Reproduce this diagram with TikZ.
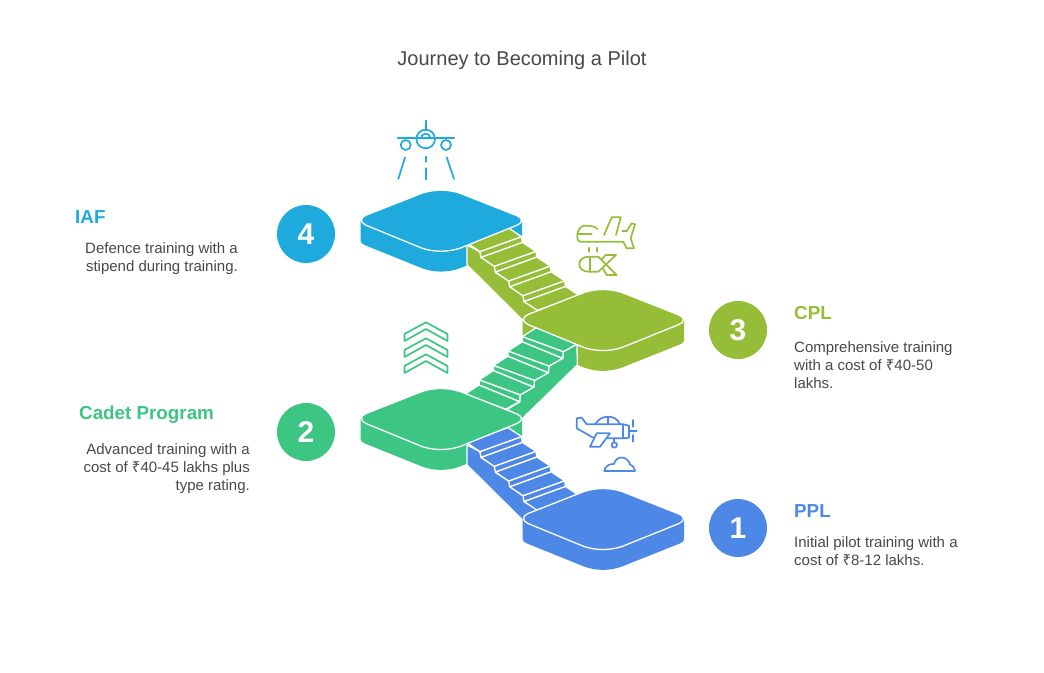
\documentclass[tikz,border=0pt]{standalone}
\usepackage{fontspec}
\setmainfont{Liberation Sans}
\newfontfamily\rupeefont{Noto Sans}
\definecolor{pplblue}{RGB}{78,136,231}
\definecolor{cadetgreen}{RGB}{60,197,131}
\definecolor{cplolive}{RGB}{149,189,56}
\definecolor{iafblue}{RGB}{30,170,220}
\definecolor{inktext}{RGB}{72,72,72}
\tikzset{
  numdisc/.style={circle, minimum size=58pt, inner sep=0pt, text=white, font=\fontsize{30}{30}\selectfont\bfseries},
  headtext/.style={inner sep=0pt, font=\fontsize{18.8}{22}\selectfont\bfseries},
  bodytext/.style={inner sep=0pt, text=inktext, font=\fontsize{15}{18}\selectfont},
  iconline/.style={line width=1.7pt, line cap=round, line join=round},
  stairline/.style={draw=white, line width=1.3pt, line join=round},
}
% side of a platform, centre given
\newcommand{\platformside}[3]{
  \fill[#3] (#1-80.5,#2) -- (#1-80.5,#2+20) .. controls (#1-80.5,#2+22) and (#1-79,#2+23) .. (#1-76,#2+24.5) -- (#1-19,#2+47.5) .. controls (#1-7,#2+52) and (#1+7,#2+52) .. (#1+19,#2+47.5) -- (#1+78,#2+24) .. controls (#1+80,#2+23) and (#1+81,#2+22) .. (#1+81,#2+20) -- (#1+81,#2) -- cycle;
}
% top face of a platform
\newcommand{\platformtop}[3]{
  \filldraw[fill=#3, stairline] (#1-75,#2-5.5) -- (#1-19,#2-27.5) .. controls (#1-7,#2-31.5) and (#1+7,#2-31.5) .. (#1+19,#2-27.5) -- (#1+76,#2-5) .. controls (#1+82,#2-2.5) and (#1+82,#2+2) .. (#1+76,#2+4.5) -- (#1+19,#2+27.5) .. controls (#1+7,#2+31.5) and (#1-7,#2+31.5) .. (#1-19,#2+27.5) -- (#1-75,#2+4.5) .. controls (#1-81,#2+2) and (#1-81,#2-3) .. (#1-75,#2-5.5) -- cycle;
}
% stairs falling to the right, lifted by #1
\newcommand{\fallstairs}[2]{
  \begin{scope}[shift={(0,-#1)}]
    \filldraw[fill=#2, stairline] (467,445) -- (467,465) -- (522.5,520) -- (545,520) -- (537,509) -- (524,501.7) -- (523.3,495.7) -- (510,486.7) -- (509.3,481) -- (495.7,472.7) -- (495,466.7) -- (481,457.3) -- (480,451.7) -- cycle;
    \foreach \i in {4,3,2,1,0} {
      \begin{scope}[shift={(14.35*\i,14.7*\i)}]
        \filldraw[fill=#2, stairline] (466.7,442.6) -- (508,427.6) -- (521.7,436.7) -- (480,451.7) -- cycle;
        \filldraw[fill=#2, stairline] (480,451.7) -- (521.7,436.7) -- (522.3,442.3) -- (481,457.3) -- cycle;
      \end{scope}
    }
  \end{scope}
}
\begin{document}
\begin{tikzpicture}[x=1pt, y=-1pt]
  \useasboundingbox (0,0) rectangle (1044,672);

  % Title
  \node[text=inktext, inner sep=0pt, font=\fontsize{20}{24}\selectfont] (title) at (522,60.5) {Journey to Becoming a Pilot};

  % Stairs and platforms, back to front
  \platformside{441}{220.7}{iafblue}
  \fallstairs{200}{cplolive}
  \platformtop{441}{220.7}{iafblue}

  \platformside{603}{320}{cplolive}
  \filldraw[fill=cadetgreen, stairline] (577,344) -- (577.3,365) -- (522,419) -- (507.3,409.3) -- (520,401.7) -- (520,395) -- (533.3,387.3) -- (534.3,380.7) -- (548.3,372.3) -- (549,366) -- (562.7,358.3) -- (563.3,351.7) -- cycle;
  \foreach \i in {4,3,2,1,0} {
    \begin{scope}[shift={(-14.4*\i,14.4*\i)}]
      \filldraw[fill=cadetgreen, stairline] (536.7,327.3) -- (577.1,343.9) -- (563.3,351.7) -- (522.3,336.7) -- cycle;
      \filldraw[fill=cadetgreen, stairline] (522.3,336.7) -- (563.3,351.7) -- (562.7,358.3) -- (522.3,341.7) -- cycle;
    \end{scope}
  }
  \platformtop{603}{320}{cplolive}

  \platformside{441}{419}{cadetgreen}
  \fallstairs{0}{pplblue}
  \platformtop{441}{419}{cadetgreen}

  \platformside{603}{519}{pplblue}
  \platformtop{603}{519}{pplblue}

  % Number discs
  \node[numdisc, fill=iafblue] (disc4) at (306,234) {4};
  \node[numdisc, fill=cplolive] (disc3) at (738,330) {3};
  \node[numdisc, fill=cadetgreen] (disc2) at (306,432) {2};
  \node[numdisc, fill=pplblue] (disc1) at (738,528) {1};

  % IAF
  \node[headtext, text=iafblue, anchor=west] (iafhead) at (75,217) {IAF};
  \node[bodytext, anchor=north east, align=right] (iafbody) at (238,242.5) {Defence training with a\\stipend during training.};

  % Cadet Program
  \node[headtext, text=cadetgreen, anchor=west] (cadethead) at (79,415) {Cadet Program};
  \node[bodytext, anchor=north east, align=right] (cadetbody) at (250,443.5) {Advanced training with a\\cost of {\rupeefont ₹}40-45 lakhs plus\\type rating.};

  % CPL
  \node[headtext, text=cplolive, anchor=west] (cplhead) at (794,313) {CPL};
  \node[bodytext, anchor=north west, align=left] (cplbody) at (794,341.5) {Comprehensive training\\with a cost of {\rupeefont ₹}40-50\\lakhs.};

  % PPL
  \node[headtext, text=pplblue, anchor=west] (pplhead) at (794,511) {PPL};
  \node[bodytext, anchor=north west, align=left] (pplbody) at (794,536.5) {Initial pilot training with a\\cost of {\rupeefont ₹}8-12 lakhs.};

  % Jet over the runway
  \begin{scope}[iconline, draw=iafblue]
    \draw (425.7,120.7) -- (425.7,130);
    \draw (397.7,138.3) -- (454.3,138.3);
    \draw (425.7,139) circle (9.3);
    \draw (421,138.3) arc (180:360:4.7);
    \draw (405.7,145) circle (5);
    \draw (446,145) circle (5);
    \draw (405,157.3) -- (398.3,179);
    \draw (426,156.7) -- (426,161.7);
    \draw (426,168.3) -- (426,179.3);
    \draw (446.7,157.3) -- (454,179);
  \end{scope}

  % Chevrons
  \foreach \i in {0,1,2} {
    \draw[iconline, cadetgreen] (426,322.3+16*\i) -- (447.5,334+16*\i) -- (447.5,341+16*\i) -- (426,329+16*\i) -- (404.5,341+16*\i) -- (404.5,334+16*\i) -- cycle;
  }

  % Bomber
  \begin{scope}[iconline, draw=cplolive]
    \draw (577.3,236.7) .. controls (577.3,229) and (581,225.7) .. (585,225.7) .. controls (590,225.7) and (595,226) .. (597.3,229);
    \draw (577.3,234.3) -- (591.7,234.3);
    \draw (577.3,236.7) .. controls (577.3,239) and (578,241.7) .. (580,241.7) -- (623.3,241.7) -- (626.7,248.3) -- (634,248.3) -- (630.7,238.3) -- (635,224.3) -- (631.7,223.3) -- (626.7,231) -- (622.3,231);
    \draw (604,235) -- (611.7,217.3) -- (620.7,217.3) -- (616,235);
    \draw (589.3,247.7) -- (589.3,251.7);
    \draw (597.3,247.7) -- (597.3,251.7);
    \draw (598.3,256.7) -- (589,256.7) .. controls (583,256.7) and (579.3,260) .. (579.3,264.3) .. controls (579.3,268.5) and (583,271.7) .. (589,271.7) -- (598.3,271.7) -- (616,255) -- (605.7,255) -- (601.7,259.3);
    \draw (598.3,256.7) -- (616.7,275) -- (606.7,275) -- (602.7,268.3);
    \draw (590,256.7) -- (590,271.7);
  \end{scope}

  % Propeller plane and cloud
  \begin{scope}[iconline, draw=pplblue]
    \draw (586.7,424.3) -- (581.7,417.7) -- (576.7,418.3) -- (576.7,428.3) -- (593.3,437.7);
    \draw (586.7,424.3) -- (623.3,424.3) -- (629,425.7) -- (629,437.7) -- (623.3,438.3) -- (607,438.3);
    \draw (623.3,424.3) -- (623.3,438.3);
    \draw (595,424.3) .. controls (598,419) and (603,416.7) .. (608.3,416.7) .. controls (613,416.7) and (618,419) .. (620,424.3);
    \draw (608.3,416.7) -- (608.3,424.3);
    \draw (596.7,433.3) -- (610,433.3) -- (600,446.7) -- (590,446.7) -- cycle;
    \draw (614.3,438.3) -- (614.3,442.3);
    \draw (614.3,445) circle (2.7);
    \draw (629,431) -- (636.7,431);
    \draw (633.3,420) -- (633.3,426.7);
    \draw (633.3,435) -- (633.3,441.7);
    \draw (604.3,471) -- (635,471) .. controls (634,467) and (632,464.5) .. (630,464.5) .. controls (629,460) and (625,457.5) .. (621.5,457.5) .. controls (618,457.5) and (615,460) .. (614,464) .. controls (609,463.5) and (605,466.5) .. (604.3,471);
  \end{scope}
\end{tikzpicture}
\end{document}
